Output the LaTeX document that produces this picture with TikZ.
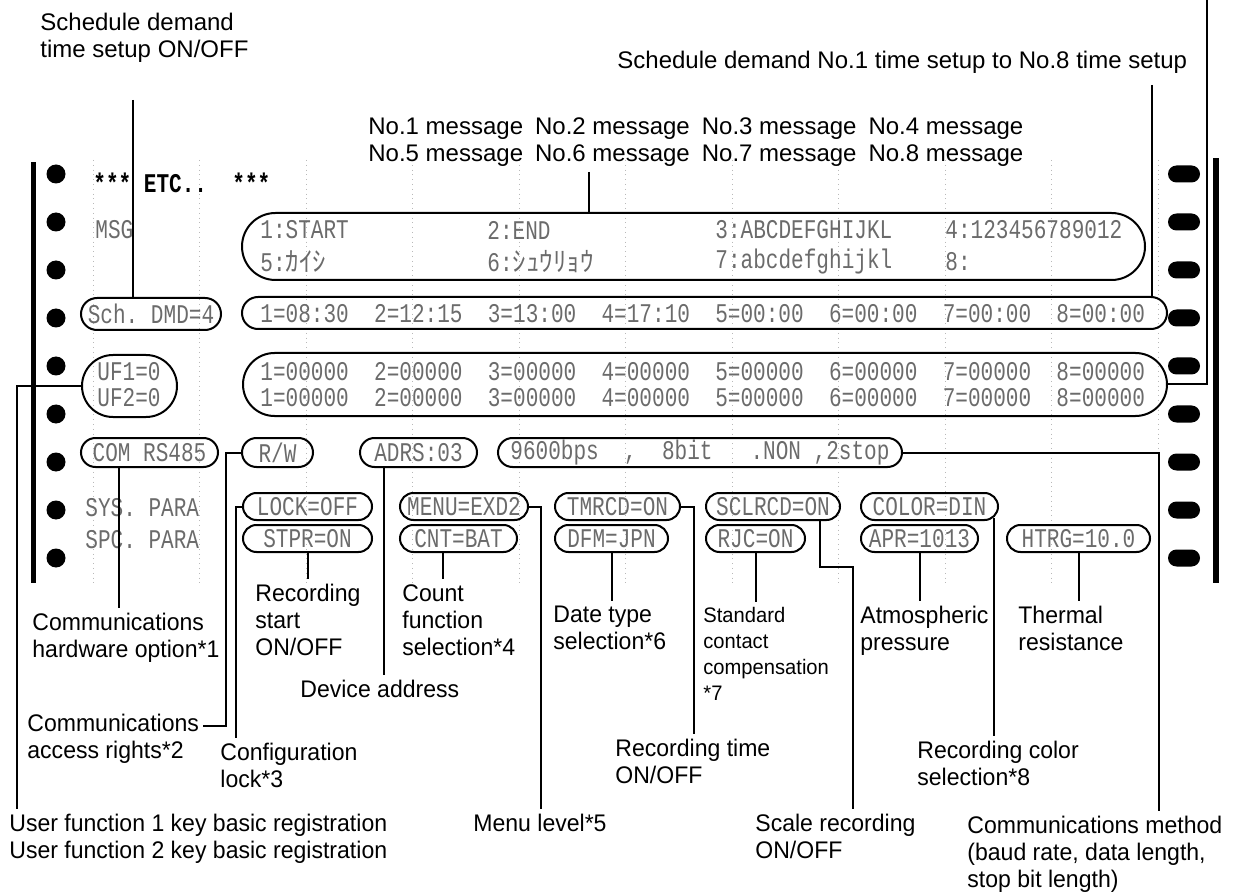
\documentclass[tikz,border=0pt]{standalone}
\usepackage{fontspec}
\setmainfont{Liberation Sans}[FakeStretch=0.96]
\newfontfamily\topfont{Liberation Sans}
\newfontfamily\dotfont{Liberation Mono}[FakeStretch=0.78]
\newfontfamily\jpfont{Noto Sans CJK JP}
\usetikzlibrary{shapes.misc}

\begin{document}
\begin{tikzpicture}[
    x=0.5pt, y=-0.5pt,
    lbl/.style={anchor=north west, align=left, inner xsep=0pt, inner ysep=2.5pt, font=\fontsize{12pt}{13.5pt}\selectfont},
    toplbl/.style={lbl, font=\topfont\fontsize{12pt}{13.5pt}\selectfont},
    smalllbl/.style={lbl, font=\fontsize{10.5pt}{13pt}\selectfont},
    pill/.style={rectangle, draw, line width=1pt, inner sep=0pt, minimum height=#1, rounded corners=#1/2, text=black!58, font=\dotfont\fontsize{13.5pt}{16pt}\selectfont},
    dottxt/.style={anchor=west, inner sep=0pt, text=black!58, font=\dotfont\fontsize{13.5pt}{16pt}\selectfont},
    conn/.style={line width=1pt},
    papergrid/.style={gray!55, dotted, line width=0.4pt}
]
\useasboundingbox (0,0) rectangle (1243,893);

% chart paper
\foreach \k in {0,...,10}
    \draw[papergrid] (93+106.5*\k,160) -- (93+106.5*\k,585);
\fill (31,162) rectangle (36,583);
\fill (1213,158) rectangle (1219,583);
\foreach \k in {0,...,8} {
    \fill (56,174+48*\k) circle[radius=9.5];
    \fill[rounded corners=4.25pt] (1168,165.5+48*\k) rectangle (1200,182.5+48*\k);
}

% printout
\node[dottxt, text=black, font=\dotfont\bfseries\fontsize{13.5pt}{16pt}\selectfont] (etc) at (93,183) {***~ETC..~~***};
\node[dottxt] (msgtag) at (95,230) {MSG};
\node[dottxt] (systag) at (85,508) {SYS.~PARA};
\node[dottxt] (spctag) at (85,540) {SPC.~PARA};

\node[pill=33.5pt, minimum width=451.5pt] (msg) at (693.5,246.5) {};
\node[dottxt] (m1) at (260,230) {1:START};
\node[dottxt] (m2) at (487,230) {2:END};
\node[dottxt] (m3) at (715,230) {3:ABCDEFGHIJKL};
\node[dottxt] (m4) at (945,230) {4:123456789012};
\node[dottxt] (m5) at (260,262) {5:{\jpfont ｶｲｼ}};
\node[dottxt] (m6) at (487,262) {6:{\jpfont ｼｭｳﾘｮｳ}};
\node[dottxt] (m7) at (715,262) {7:abcdefghijkl};
\node[dottxt] (m8) at (945,262) {8:};

\node[pill=16pt, minimum width=70pt] (sch) at (151,314) {Sch.~DMD=4};
\node[pill=16pt, minimum width=462.5pt] (times) at (704.5,313) {};
\node[dottxt] (timetxt) at (260,314) {1=08:30~~2=12:15~~3=13:00~~4=17:10~~5=00:00~~6=00:00~~7=00:00~~8=00:00};

\node[pill=31pt, minimum width=47.5pt] (uf) at (129.5,386) {};
\node[dottxt] (uf1) at (97,372) {UF1=0};
\node[dottxt] (uf2) at (97,398) {UF2=0};
\node[pill=31.5pt, minimum width=462pt] (ufval) at (705,384.5) {};
\node[dottxt] (uf1txt) at (260,372) {1=00000~~2=00000~~3=00000~~4=00000~~5=00000~~6=00000~~7=00000~~8=00000};
\node[dottxt] (uf2txt) at (260,398) {1=00000~~2=00000~~3=00000~~4=00000~~5=00000~~6=00000~~7=00000~~8=00000};

\node[pill=14.5pt, minimum width=68.5pt] (com) at (149.5,452.5) {COM~RS485};
\node[pill=14.5pt, minimum width=35.5pt] (rw) at (277.5,452.5) {R/W};
\node[pill=14.5pt, minimum width=58.5pt] (adrs) at (418.5,452.5) {ADRS:03};
\node[pill=14.5pt, minimum width=202pt] (baud) at (700,452.5) {9600bps~~,~~8bit~~~.NON~,2stop};

\node[pill=13.5pt, minimum width=64.5pt] (lock) at (307.5,506.5) {LOCK=OFF};
\node[pill=13.5pt, minimum width=64pt] (menu) at (464,506.5) {MENU=EXD2};
\node[pill=13.5pt, minimum width=62.5pt] (tmrcd) at (617.5,506.5) {TMRCD=ON};
\node[pill=13.5pt, minimum width=67pt] (sclrcd) at (773,506.5) {SCLRCD=ON};
\node[pill=13.5pt, minimum width=68.5pt] (color) at (929.5,506.5) {COLOR=DIN};

\node[pill=13.5pt, minimum width=64.5pt] (stpr) at (307.5,538.5) {STPR=ON};
\node[pill=13.5pt, minimum width=58.5pt] (cnt) at (458.5,538.5) {CNT=BAT};
\node[pill=13.5pt, minimum width=56.5pt] (dfm) at (611.5,538.5) {DFM=JPN};
\node[pill=13.5pt, minimum width=49.5pt] (rjc) at (755.5,538.5) {RJC=ON};
\node[pill=13.5pt, minimum width=58.5pt] (apr) at (919.5,538.5) {APR=1013};
\node[pill=13.5pt, minimum width=71.5pt] (htrg) at (1078.5,538.5) {HTRG=10.0};

% labels
\node[toplbl] (sdlbl) at (40,8) {Schedule demand\\time setup ON/OFF};
\node[toplbl] (stlbl) at (617,46) {Schedule demand No.1 time setup to No.8 time setup};
\node[toplbl] (msglbl) at (368,112) {No.1 message\hspace{6pt}No.2 message\hspace{6pt}No.3 message\hspace{6pt}No.4 message\\No.5 message\hspace{6pt}No.6 message\hspace{6pt}No.7 message\hspace{6pt}No.8 message};
\node[lbl] (hwlbl) at (32,608) {Communications\\hardware option*1};
\node[lbl] (acclbl) at (27,709) {Communications\\access rights*2};
\node[lbl] (cfglbl) at (220,738) {Configuration\\lock*3};
\node[lbl] (uflbl) at (9,809) {User function 1 key basic registration\\User function 2 key basic registration};
\node[lbl] (reclbl) at (255,579) {Recording\\start\\ON/OFF};
\node[lbl] (cntlbl) at (402,579) {Count\\function\\selection*4};
\node[lbl] (devlbl) at (300,675) {Device address};
\node[lbl] (menulbl) at (473,809) {Menu level*5};
\node[lbl] (datelbl) at (553,601) {Date type\\selection*6};
\node[smalllbl] (stdlbl) at (703,602) {Standard\\contact\\compensation\\*7};
\node[lbl] (rtlbl) at (615,734) {Recording time\\ON/OFF};
\node[lbl] (scllbl) at (755,809) {Scale recording\\ON/OFF};
\node[lbl] (atmlbl) at (860,601) {Atmospheric\\pressure};
\node[lbl] (thlbl) at (1018,601) {Thermal\\resistance};
\node[lbl] (collbl) at (917,736) {Recording color\\selection*8};
\node[lbl] (cmlbl) at (967,811) {Communications method\\(baud rate, data length,\\stop bit length)};

% connectors
\coordinate (sdtop) at (133,100);
\coordinate (sttop) at (1152,85);
\coordinate (msgtop) at (589,172);
\coordinate (edgetop) at (1207,0);
\coordinate (rwdrop) at (226,726);
\coordinate (accend) at (203,726);
\coordinate (sclbend) at (853,567);

\draw[conn] (sdtop) -- (sdtop |- sch.north);
\draw[conn] (sttop) -- (sttop |- times.north);
\draw[conn] (msgtop) -- (msgtop |- msg.north);
\draw[conn] (edgetop) |- (ufval.east);
\draw[conn] (uf.west) -| ([xshift=4pt]uflbl.north west);
\draw[conn] ([xshift=-15.25pt]com.south) -- ([xshift=-15.25pt]com.south |- hwlbl.north);
\draw[conn] (rw.west) -| (rwdrop) -- (accend);
\draw[conn] (lock.west) -| ([xshift=8pt]cfglbl.north west);
\draw[conn] (stpr.south) -- (stpr.south |- reclbl.north);
\draw[conn] ([xshift=-17.25pt]adrs.south) -- ([xshift=-17.25pt]adrs.south |- devlbl.north);
\draw[conn] ([xshift=-7.75pt]cnt.south) -- ([xshift=-7.75pt]cnt.south |- cntlbl.north);
\draw[conn] (menu.east) -| ([xshift=34pt]menulbl.north west);
\draw[conn] (dfm.south) -- (dfm.south |- datelbl.north);
\draw[conn] (tmrcd.east) -| ([xshift=39.5pt]rtlbl.north west);
\draw[conn] (rjc.south) -- (rjc.south |- stdlbl.north);
\draw[conn] ([xshift=23.5pt]sclrcd.south) |- (sclbend) -- ([xshift=49pt]scllbl.north west);
\draw[conn] (apr.south) -- (apr.south |- atmlbl.north);
\draw[conn] ([xshift=32.25pt,yshift=1.5pt]color.south) -- ([xshift=38.5pt]collbl.north west);
\draw[conn] (htrg.south) -- (htrg.south |- thlbl.north);
\draw[conn] (baud.east) -| ([xshift=96pt]cmlbl.north west);
\end{tikzpicture}
\end{document}
